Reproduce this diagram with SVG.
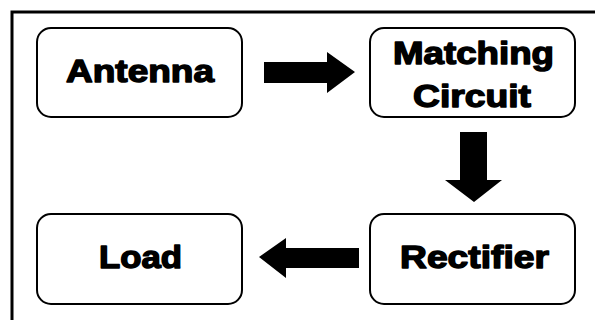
<svg xmlns="http://www.w3.org/2000/svg" width="595" height="320" viewBox="0 0 595 320">
<style>
.box{fill:#fff;stroke:#000;stroke-width:2}
.lbl{font-family:"Liberation Sans",Arial,sans-serif;font-weight:bold;font-size:31px;fill:#000;stroke:#000;stroke-width:1.4;stroke-linejoin:round;text-anchor:middle}
.arrow{fill:#000}
</style>
<rect x="0" y="0" width="595" height="320" fill="#fff"/>
<path d="M12 330 V12 H600" fill="none" stroke="#000" stroke-width="3"/>
<g id="antenna">
<rect class="box" x="37" y="28" width="205" height="89" rx="14"/>
<text class="lbl" x="140" y="82" textLength="148" lengthAdjust="spacingAndGlyphs">Antenna</text>
</g>
<g id="matching">
<rect class="box" x="370" y="28" width="205" height="89" rx="14"/>
<text class="lbl" x="473.5" y="64" textLength="161" lengthAdjust="spacingAndGlyphs">Matching</text>
<text class="lbl" x="472" y="107" textLength="118" lengthAdjust="spacingAndGlyphs">Circuit</text>
</g>
<g id="load">
<rect class="box" x="37" y="214" width="205" height="90" rx="14"/>
<text class="lbl" x="140.5" y="268" textLength="83" lengthAdjust="spacingAndGlyphs">Load</text>
</g>
<g id="rectifier">
<rect class="box" x="370" y="214" width="205" height="90" rx="14"/>
<text class="lbl" x="474.5" y="268" textLength="149" lengthAdjust="spacingAndGlyphs">Rectifier</text>
</g>
<g id="connectors">
<polygon class="arrow" points="264,62 327,62 327,52 355,72 327,93 327,83 264,83"/>
<polygon class="arrow" points="460,132 487,132 487,180 502,180 474,202 445,180 460,180"/>
<polygon class="arrow" points="359,248 286,248 286,238 259,257 286,278 286,268 359,268"/>
</g>
</svg>
